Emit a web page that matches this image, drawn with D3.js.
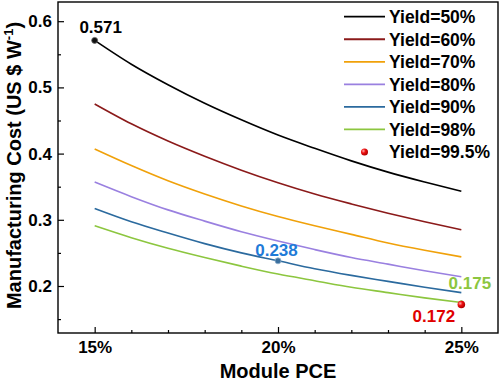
<!DOCTYPE html>
<html><head><meta charset="utf-8">
<script src="https://cdn.jsdelivr.net/npm/d3@7"></script>
<style>body{margin:0;background:#fff}svg{display:block;font-family:"Liberation Sans",Arial,sans-serif;font-weight:bold}</style>
</head><body><svg id="c" width="500" height="381"></svg>
<script>
const pce = [15,16,17,18,19,20,21,22,23,24,25];
const yield50 = [0.571,0.535,0.504,0.476,0.451,0.428,0.408,0.389,0.372,0.357,0.343];
const yield60 = [0.475,0.445,0.419,0.396,0.375,0.356,0.339,0.324,0.310,0.297,0.285];
const yield70 = [0.407,0.382,0.359,0.339,0.321,0.305,0.291,0.278,0.265,0.254,0.244];
const yield80 = [0.357,0.335,0.315,0.298,0.282,0.268,0.255,0.243,0.233,0.223,0.214];
const yield90 = [0.317,0.297,0.280,0.264,0.250,0.238,0.226,0.216,0.207,0.198,0.190];
const yield98 = [0.291,0.273,0.257,0.243,0.230,0.218,0.208,0.198,0.190,0.182,0.175];
const seriesNames = ["Yield=50%","Yield=60%","Yield=70%","Yield=80%","Yield=90%","Yield=98%"];
const seriesColors = ["#000000","#8b1a1a","#f0a10a","#9a80e0","#2b6a9e","#8cc63f"];
const point995 = {pce:25, cost:0.172, name:"Yield=99.5%"};
const xTicks = [15,20,25];
const yTicks = [0.2,0.3,0.4,0.5,0.6];
const annotations = [
  {pce:15, cost:0.571, text:"0.571", color:"#000000"},
  {pce:20, cost:0.238, text:"0.238", color:"#1f7bd8"},
  {pce:25, cost:0.175, text:"0.175", color:"#8cc63f"},
  {pce:25, cost:0.172, text:"0.172", color:"#e00000"}
];

const svg = d3.select("#c");
const L=58,R=498,T=2,B=333;
const x = d3.scaleLinear().domain([14,26]).range([L,R]);
const y = d3.scaleLinear().domain([0.129,0.629]).range([B,T]);

const defs = svg.append("defs");
const g = defs.append("radialGradient").attr("id","rg").attr("cx","35%").attr("cy","35%").attr("r","65%");
g.append("stop").attr("offset","0%").attr("stop-color","#ffb0b0");
g.append("stop").attr("offset","45%").attr("stop-color","#ee1010");
g.append("stop").attr("offset","100%").attr("stop-color","#b00000");

// curves
const allSeries=[yield50,yield60,yield70,yield80,yield90,yield98];
const line = d3.line().x((d,i)=>x(pce[i])).y(d=>y(d)).curve(d3.curveMonotoneX);
allSeries.forEach((s,k)=>{
  svg.append("path").attr("d",line(s)).attr("fill","none").attr("stroke",seriesColors[k]).attr("stroke-width",1.6);
});

// axes
const xAxis = svg.append("g").attr("transform",`translate(0,${B})`)
  .call(d3.axisBottom(x).tickValues(xTicks).tickFormat(d=>d+"%").tickSizeInner(-6).tickSizeOuter(0).tickPadding(8));
const xMinor = svg.append("g").attr("transform",`translate(0,${B})`)
  .call(d3.axisBottom(x).tickValues(d3.range(15,26).filter(v=>v%5)).tickFormat("").tickSizeInner(-3).tickSizeOuter(0));
const yAxis = svg.append("g").attr("transform",`translate(${L},0)`)
  .call(d3.axisLeft(y).tickValues(yTicks).tickFormat(d3.format(".1f")).tickSizeInner(-6).tickSizeOuter(0).tickPadding(6));
const yMinor = svg.append("g").attr("transform",`translate(${L},0)`)
  .call(d3.axisLeft(y).tickValues([0.15,0.25,0.35,0.45,0.55]).tickFormat("").tickSizeInner(-3).tickSizeOuter(0));
[xAxis,xMinor,yAxis,yMinor].forEach(a=>{
  a.select(".domain").remove();
  a.selectAll("line").attr("stroke","#000").attr("stroke-width",1.2);
  a.selectAll("text").attr("fill","#000").style("font-size","17px").style("font-weight","bold").attr("font-family",null);
});
xAxis.selectAll("text").attr("dy","0.71em");
svg.append("rect").attr("x",L).attr("y",T).attr("width",R-L).attr("height",B-T)
  .attr("fill","none").attr("stroke","#000").attr("stroke-width",1.4);

// titles
svg.append("text").attr("x",(L+R)/2).attr("y",378).attr("text-anchor","middle")
  .style("font-size","20px").text("Module PCE");
const yt = svg.append("text").attr("transform",`translate(21,${(18+313)/2}) rotate(-90)`).attr("text-anchor","middle")
  .style("font-size","20px");
yt.append("tspan").text("Manufacturing Cost (US $ W");
yt.append("tspan").attr("dy","-8").style("font-size","13px").text("-1");
yt.append("tspan").attr("dy","8").text(")");

// markers
svg.append("circle").attr("cx",x(15)).attr("cy",y(0.571)).attr("r",3).attr("fill","#111").attr("stroke","#666").attr("stroke-width",0.8);
svg.append("circle").attr("cx",x(20)).attr("cy",y(0.238)).attr("r",3).attr("fill","#3a6f9e").attr("stroke","#8fb0cc").attr("stroke-width",0.8);
svg.append("circle").attr("cx",x(25)).attr("cy",y(0.175)).attr("r",2.2).attr("fill","#8cc63f");
svg.append("circle").attr("cx",x(point995.pce)).attr("cy",y(point995.cost)).attr("r",3.8).attr("fill","url(#rg)");

// annotations
const offs=[[6,-7,"middle"],[-1.5,-5,"middle"],[8.5,-14,"middle"],[-27.5,17,"middle"]];
annotations.forEach((a,i)=>{
  svg.append("text").attr("x",x(a.pce)+offs[i][0]).attr("y",y(a.cost)+offs[i][1]).attr("text-anchor",offs[i][2])
    .attr("fill",a.color).style("font-size","17px").text(a.text);
});

// legend
const lg = svg.append("g");
const rows = seriesNames.length+1;
for(let i=0;i<rows;i++){
  const cy = 16.7 + i*22.55;
  if(i<seriesNames.length){
    lg.append("line").attr("x1",344).attr("x2",385).attr("y1",cy).attr("y2",cy).attr("stroke",seriesColors[i]).attr("stroke-width",1.8);
  } else {
    lg.append("circle").attr("cx",364.5).attr("cy",cy).attr("r",3.5).attr("fill","url(#rg)");
  }
  lg.append("text").attr("x",389).attr("y",cy).attr("dy","0.36em").style("font-size","17.5px")
    .text(i<seriesNames.length?seriesNames[i]:point995.name);
}
</script></body></html>
